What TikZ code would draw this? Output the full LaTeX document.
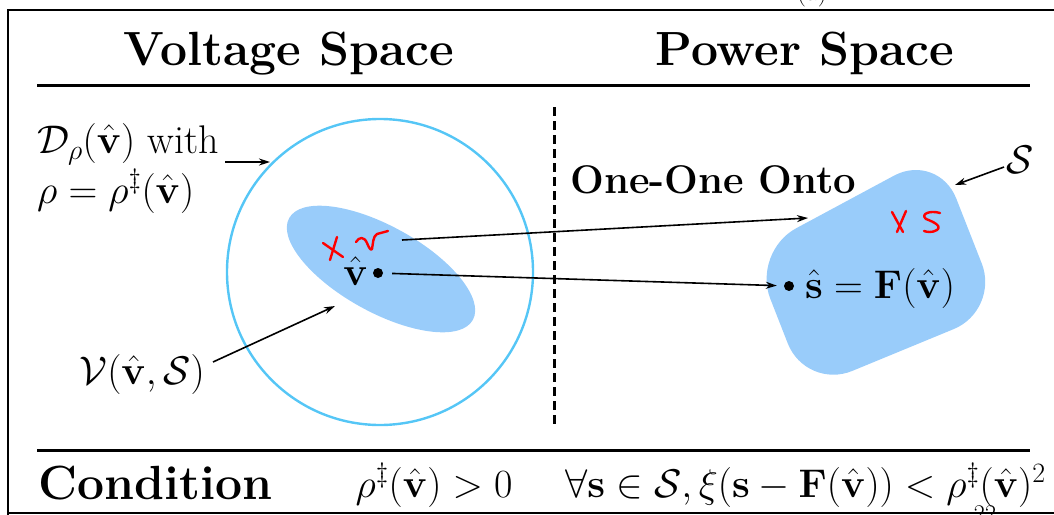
\RequirePackage{fix-cm}
\documentclass[tikz,border=0pt]{standalone}
\usepackage{amsmath}
\usetikzlibrary{arrows.meta}
\definecolor{cyanring}{HTML}{55C6F6}
\definecolor{blobblue}{HTML}{99CCFA}
\tikzset{
  big/.style={font=\fontsize{40}{46}\selectfont, inner sep=0pt},
  head/.style={font=\fontsize{48}{54}\selectfont\bfseries, inner sep=0pt},
  mid/.style={font=\fontsize{40}{46}\selectfont\bfseries, inner sep=0pt},
  rule/.style={line width=3pt},
  pointer/.style={line width=1.6pt, -{Stealth[length=11pt,width=7pt]}},
  redmark/.style={red, line width=2.4pt, line cap=round, line join=round},
  dotpt/.style={circle, fill=black, inner sep=0pt, minimum size=10pt}
}
\begin{document}
\begin{tikzpicture}[x=1pt,y=-1pt]
\useasboundingbox (0,0) rectangle (1054,514);
\clip (0,0) rectangle (1054,514);
% frame
\draw[line width=2.2pt] (8,518) -- (8,10) -- (1060,10);
\draw[line width=1.5pt] (8,513) -- (1060,513);
\node[big, font=\fontsize{26}{30}\selectfont] (tag) at (812,-6) {(a)};
\node[big, font=\fontsize{24}{28}\selectfont, anchor=north] (pg) at (985,505) {22};
% headings
\node[head, anchor=base] (vs) at (289,65) {Voltage Space};
\node[head, anchor=base] (ps) at (805,65) {Power Space};
\draw[rule] (37,85) -- (1030,85);
\draw[rule] (37,450) -- (1030,450);
% dashed divider
\draw[line width=3pt, dash pattern=on 9pt off 5pt] (554,107) -- (554,428);
% circle D
\draw[cyanring, line width=2.4pt] (380,272) circle[radius=153];
% ellipse V
\fill[blobblue] (381,269) ellipse[x radius=105, y radius=43, rotate=-29];
% set S
\fill[blobblue, rounded corners=50pt] (752,252) -- (938,152) -- (1000,310) -- (806,390) -- cycle;
% points
\node[dotpt] (vh) at (378,273) {};
\node[big, anchor=base east] (vlab) at (368,285) {$\hat{\mathbf v}$};
\node[dotpt] (sh) at (789,286) {};
\node[big, anchor=base west] (slab) at (805,298) {$\hat{\mathbf s} = \mathbf F(\hat{\mathbf v})$};
% mapping arrows
\coordinate (a1) at (402,240);
\coordinate (a2) at (808,218);
\draw[pointer] (a1) -- (a2);
\draw[pointer, shorten <=9pt, shorten >=7pt] (vh) -- (sh);
\node[mid, anchor=base west] (onto) at (570,193) {One-One Onto};
% left labels
\node[big, anchor=base west] (dlab) at (37,153) {$\mathcal D_\rho(\hat{\mathbf v})$ with};
\node[big, anchor=base west] (rlab) at (37,203) {$\rho = \rho^\ddagger(\hat{\mathbf v})$};
\coordinate (d1) at (225,162);
\coordinate (d2) at (270,162);
\draw[pointer] (d1) -- (d2);
\node[big, anchor=base east] (vset) at (205,384) {$\mathcal V(\hat{\mathbf v},\mathcal S)$};
\coordinate (v1) at (213,362);
\coordinate (v2) at (335,306);
\draw[pointer] (v1) -- (v2);
% S label
\node[big] (slab2) at (1020,160) {$\mathcal S$};
\coordinate (s1) at (1004,167);
\coordinate (s2) at (955,185);
\draw[pointer] (s1) -- (s2);
% bottom row
\node[head, anchor=base west] (cond) at (38,499) {Condition};
\node[big, anchor=base] (c1) at (434,497) {$\rho^\ddagger(\hat{\mathbf v}) > 0$};
\node[big, anchor=base west] (c2) at (565,497) {$\forall \mathbf s\in\mathcal S, \xi(\mathbf s-\mathbf F(\hat{\mathbf v})) < \rho^\ddagger(\hat{\mathbf v})^2$};
% red annotations
\draw[redmark] (323,243) -- (343,257);
\draw[redmark] (337,237) -- (330,260);
\draw[redmark] (356,242) .. controls (359,237) and (364,236) .. (367,243) .. controls (369,248) and (371,251) .. (372,249) .. controls (373,244) and (373,236) .. (377,234) -- (388,231);
\draw[redmark] (892,212) -- (903,232);
\draw[redmark] (906,211) -- (897,232);
\draw[redmark] (940,213) .. controls (930,210) and (920,214) .. (926,219) .. controls (934,222) and (942,226) .. (937,230) .. controls (932,233) and (927,232) .. (924,231);
\end{tikzpicture}
\end{document}
